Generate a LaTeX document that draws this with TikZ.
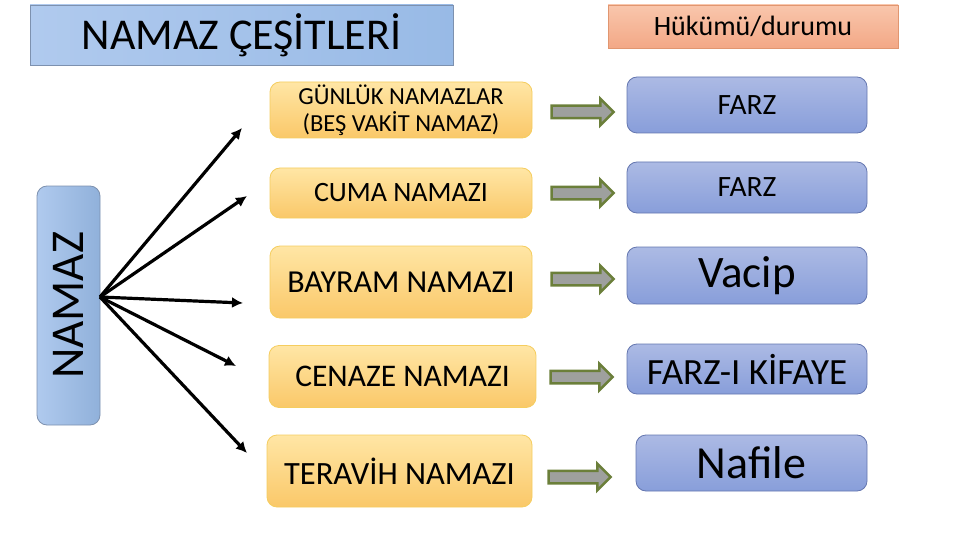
\documentclass[tikz,border=0pt]{standalone}
\usepackage{fontspec}
\setmainfont{Carlito}
\usepackage{graphicx}
\usetikzlibrary{positioning}
\usetikzlibrary{arrows.meta}
\usetikzlibrary{shapes.arrows}
\definecolor{figMaviA}{RGB}{176,202,238}
\definecolor{figMaviB}{RGB}{152,186,230}
\definecolor{figMaviBorde}{RGB}{125,145,175}
\definecolor{figSomonA}{RGB}{249,198,172}
\definecolor{figSomonB}{RGB}{243,168,134}
\definecolor{figSomonBorde}{RGB}{225,150,112}
\definecolor{figSariA}{RGB}{255,230,165}
\definecolor{figSariB}{RGB}{250,200,105}
\definecolor{figSariBorde}{RGB}{245,205,95}
\definecolor{figLacA}{RGB}{172,186,228}
\definecolor{figLacB}{RGB}{136,158,218}
\definecolor{figLacBorde}{RGB}{100,118,175}
\definecolor{figGri}{RGB}{158,160,158}
\definecolor{figYesilBorde}{RGB}{107,127,58}
\tikzset{
  baslik/.style={
    rectangle, draw=figMaviBorde, line width=0.8pt,
    left color=figMaviA, right color=figMaviB, inner sep=0pt,
    minimum width=423pt, minimum height=60pt,
    font=\fontsize{44}{46}\selectfont
  },
  hukum/.style={
    rectangle, draw=figSomonBorde, line width=0.8pt,
    top color=figSomonA, bottom color=figSomonB, inner sep=0pt,
    minimum width=290pt, minimum height=43pt,
    font=\fontsize{28}{30}\selectfont
  },
  kok/.style={
    rectangle, rounded corners=10pt, draw=figMaviBorde, line width=0.8pt,
    left color=figMaviA, right color=figMaviB!95!black, inner sep=0pt,
    minimum width=63pt, minimum height=239pt,
    font=\fontsize{47}{49}\selectfont
  },
  namaz/.style={
    rectangle, rounded corners=10pt, draw=figSariBorde, line width=0.8pt,
    top color=figSariA, bottom color=figSariB, inner sep=0pt,
    minimum width=262pt, align=center
  },
  hukumkutu/.style={
    rectangle, rounded corners=10pt, draw=figLacBorde, line width=0.8pt,
    top color=figLacA, bottom color=figLacB, inner sep=0pt,
    minimum width=240pt
  },
  blokok/.style={
    single arrow, draw=figYesilBorde, line width=2.5pt, fill=figGri,
    inner sep=5pt, minimum height=62pt, single arrow head extend=7pt
  },
  okcizgi/.style={-{Latex[length=11pt,width=11pt]}, line width=3.2pt, draw=black}
}

\begin{document}
\begin{tikzpicture}[x=1pt, y=-1pt]
  \useasboundingbox (0,0) rectangle (960,540);

  \node[baslik] (baslik) at (241.5,35) {NAMAZ ÇEŞİTLERİ};
  \node[hukum] (hukum) at (753,26.5) {Hükümü/durumu};
  \node[kok] (kok) at (68.5,305.5) {\rotatebox{90}{NAMAZ}};

  % namaz turleri
  \node[namaz, minimum height=56pt, font=\fontsize{24.5}{27}\selectfont] (gunluk) at (401,110) {GÜNLÜK NAMAZLAR\\(BEŞ VAKİT NAMAZ)};
  \node[namaz, minimum height=50pt, font=\fontsize{28}{30}\selectfont] (cuma) at (401,193) {CUMA NAMAZI};
  \node[namaz, minimum height=72pt, font=\fontsize{32}{34}\selectfont] (bayram) at (401,282) {BAYRAM NAMAZI};
  \node[namaz, minimum width=267pt, minimum height=62pt, font=\fontsize{31.5}{34}\selectfont] (cenaze) at (402.5,376.5) {CENAZE NAMAZI};
  \node[namaz, minimum width=265pt, minimum height=72pt, font=\fontsize{32.5}{34}\selectfont] (teravih) at (399.5,471) {TERAVİH NAMAZI};

  % hukumler
  \node[hukumkutu, minimum height=56pt, font=\fontsize{29.5}{31}\selectfont] (farz) at (747,105) {FARZ};
  \node[hukumkutu, minimum height=51pt, font=\fontsize{29.5}{31}\selectfont] (farzb) at (747,187.5) {FARZ};
  \node[hukumkutu, minimum height=57pt, font=\fontsize{45}{47}\selectfont] (vacip) at (747,275.5) {Vacip};
  \node[hukumkutu, minimum height=50pt, font=\fontsize{37}{39}\selectfont] (kifaye) at (747,369) {FARZ-I KİFAYE};
  \node[hukumkutu, minimum width=231pt, minimum height=56pt, font=\fontsize{46}{48}\selectfont] (nafile) at (751.5,463) {Nafile};

  \node[blokok] (ok1) at (579.5,112) {};
  \node[blokok] (ok2) at (579.5,193) {};
  \node[blokok] (ok3) at (579.5,279) {};
  \node[blokok] (ok4) at (578.5,377) {};
  \node[blokok] (ok5) at (576.5,477) {};

  \coordinate (merkez) at (100,297);
  \coordinate (uc1) at (242,128);
  \coordinate (uc2) at (247,196);
  \coordinate (uc3) at (243,303);
  \coordinate (uc4) at (236,366);
  \coordinate (uc5) at (247,453);

  \foreach \i in {1,...,5}
    \draw[okcizgi] (merkez) -- (uc\i);
\end{tikzpicture}
\end{document}
